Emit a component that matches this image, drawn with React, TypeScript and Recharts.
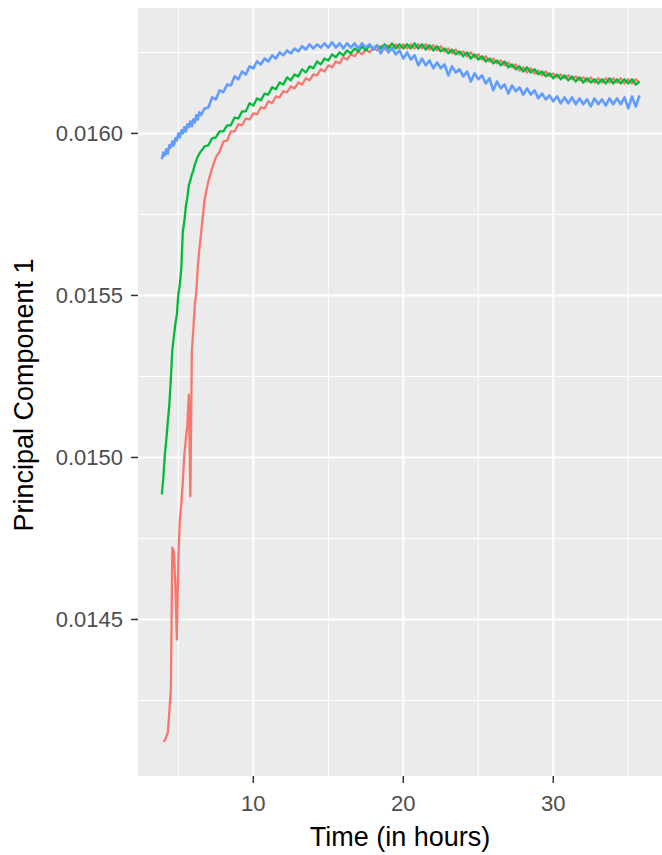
import { LineChart, Line, XAxis, YAxis, CartesianGrid } from "recharts";

// sampling times (hours); denser where the curves climb steeply
const hours = [
  3.9, 4.0, 4.1, 4.2, 4.3, 4.4, 4.5, 4.6, 4.7, 4.8, 4.9,
  5.0, 5.1, 5.2, 5.3, 5.4, 5.5, 5.6, 5.7, 5.8, 5.9,
  6.0, 6.1, 6.2, 6.3, 6.4, 6.5, 6.75,
  7, 7.25, 7.5, 7.75,
  8, 8.25, 8.5, 8.75,
  9, 9.25, 9.5, 9.75,
  10, 10.25, 10.5, 10.75,
  11, 11.25, 11.5, 11.75,
  12, 12.25, 12.5, 12.75,
  13, 13.25, 13.5, 13.75,
  14, 14.25, 14.5, 14.75,
  15, 15.25, 15.5, 15.75,
  16, 16.25, 16.5, 16.75,
  17, 17.25, 17.5, 17.75,
  18, 18.25, 18.5, 18.75,
  19, 19.25, 19.5, 19.75,
  20, 20.25, 20.5, 20.75,
  21, 21.25, 21.5, 21.75,
  22, 22.25, 22.5, 22.75,
  23, 23.25, 23.5, 23.75,
  24, 24.25, 24.5, 24.75,
  25, 25.25, 25.5, 25.75,
  26, 26.25, 26.5, 26.75,
  27, 27.25, 27.5, 27.75,
  28, 28.25, 28.5, 28.75,
  29, 29.25, 29.5, 29.75,
  30, 30.25, 30.5, 30.75,
  31, 31.25, 31.5, 31.75,
  32, 32.25, 32.5, 32.75,
  33, 33.25, 33.5, 33.75,
  34, 34.25, 34.5, 34.75,
  35, 35.25, 35.5, 35.75,
];

const pc1Red = [
  null, 0.014123, 0.014127, 0.014139, 0.014151, 0.014216, 0.014284, 0.014722, 0.01471, 0.014608, 0.014438,
  0.014685, 0.014809, 0.014855, 0.014926, 0.015009, 0.015056, 0.015102, 0.015194, 0.01488, 0.015327,
  0.015395, 0.015472, 0.015512, 0.01559, 0.015642, 0.015685, 0.015796,
  0.015852, 0.015892, 0.015926, 0.015944,
  0.015975, 0.015978, 0.016006, 0.016006,
  0.016028, 0.016025, 0.016046, 0.016043,
  0.016062, 0.016059, 0.01608, 0.016077,
  0.016099, 0.016093, 0.016114, 0.016111,
  0.01613, 0.016127, 0.016145, 0.016139,
  0.016157, 0.016151, 0.01617, 0.016164,
  0.016182, 0.016179, 0.016198, 0.016191,
  0.01621, 0.016204, 0.016222, 0.016216,
  0.016235, 0.016228, 0.016244, 0.016238,
  0.016253, 0.016244, 0.016259, 0.01625,
  0.016265, 0.016256, 0.016269, 0.016259,
  0.016272, 0.016262, 0.016275, 0.016262,
  0.016275, 0.016262, 0.016275, 0.016262,
  0.016275, 0.016262, 0.016275, 0.016259,
  0.016272, 0.016256, 0.016269, 0.016253,
  0.016262, 0.016247, 0.016259, 0.016244,
  0.016253, 0.016238, 0.01625, 0.016235,
  0.016244, 0.016228, 0.016238, 0.016222,
  0.016231, 0.016216, 0.016225, 0.01621,
  0.016219, 0.016204, 0.016213, 0.016194,
  0.016204, 0.016188, 0.016201, 0.016185,
  0.016194, 0.016179, 0.016191, 0.016176,
  0.016185, 0.016173, 0.016182, 0.01617,
  0.016179, 0.016167, 0.016176, 0.016164,
  0.016173, 0.01616, 0.016173, 0.016157,
  0.01617, 0.016157, 0.01617, 0.016157,
  0.01617, 0.016157, 0.01617, 0.016154,
  0.016167, 0.016154, 0.016167, 0.016157,
];

const pc1Green = [
  0.014886, 0.014938, 0.015009, 0.015056, 0.015111, 0.015164, 0.015241, 0.015333, 0.015373, 0.015411, 0.015441,
  0.015503, 0.015534, 0.015586, 0.015698, 0.015728, 0.015775, 0.015802, 0.01584, 0.015855, 0.015873,
  0.015886, 0.015904, 0.015917, 0.015929, 0.015938, 0.015944, 0.01596,
  0.015963, 0.015985, 0.015988, 0.016006,
  0.016006, 0.016025, 0.016025, 0.016049,
  0.016046, 0.016068, 0.016068, 0.016093,
  0.016086, 0.016108, 0.016102, 0.016123,
  0.01612, 0.016142, 0.016136, 0.016157,
  0.016151, 0.016173, 0.016164, 0.016182,
  0.016176, 0.016198, 0.016188, 0.016207,
  0.016201, 0.016222, 0.016213, 0.016231,
  0.016225, 0.016244, 0.016235, 0.01625,
  0.016241, 0.016256, 0.016247, 0.016262,
  0.016253, 0.016269, 0.016256, 0.016272,
  0.016259, 0.016272, 0.016262, 0.016275,
  0.016262, 0.016278, 0.016262, 0.016275,
  0.016262, 0.016275, 0.016262, 0.016278,
  0.016262, 0.016275, 0.016259, 0.016272,
  0.016256, 0.016269, 0.016253, 0.016262,
  0.016247, 0.016259, 0.016244, 0.016253,
  0.016238, 0.01625, 0.016231, 0.016244,
  0.016228, 0.016238, 0.016222, 0.016231,
  0.016216, 0.016225, 0.01621, 0.016222,
  0.016204, 0.016213, 0.016198, 0.016207,
  0.016191, 0.016204, 0.016188, 0.016198,
  0.016182, 0.016191, 0.016176, 0.016185,
  0.01617, 0.016182, 0.016167, 0.016179,
  0.016164, 0.016176, 0.01616, 0.016173,
  0.016157, 0.01617, 0.016157, 0.016167,
  0.016154, 0.016167, 0.016154, 0.01617,
  0.016154, 0.016167, 0.016154, 0.016167,
  0.016154, 0.016167, 0.016151, 0.01616,
];

const pc1Blue = [
  0.01592, 0.015941, 0.015932, 0.015951, 0.015938, 0.015963, 0.015957, 0.015975, 0.015963, 0.015985, 0.015978,
  0.016, 0.015988, 0.016009, 0.016, 0.016019, 0.016006, 0.016028, 0.016019, 0.016037, 0.016022,
  0.016043, 0.016034, 0.016056, 0.016043, 0.016065, 0.016056, 0.016077,
  0.01608, 0.016111, 0.016105, 0.016133,
  0.016127, 0.016151, 0.016148, 0.016176,
  0.016167, 0.016191, 0.016182, 0.016207,
  0.016201, 0.016222, 0.016213, 0.016231,
  0.016222, 0.016241, 0.016231, 0.01625,
  0.016241, 0.016256, 0.016247, 0.016262,
  0.016253, 0.016269, 0.016259, 0.016275,
  0.016262, 0.016275, 0.016265, 0.016278,
  0.016265, 0.016281, 0.016265, 0.016278,
  0.016262, 0.016278, 0.016265, 0.016278,
  0.016262, 0.016278, 0.016265, 0.016275,
  0.016259, 0.016272, 0.016247, 0.016269,
  0.01625, 0.016262, 0.016244, 0.016256,
  0.016231, 0.01625, 0.016228, 0.016241,
  0.01621, 0.016231, 0.01621, 0.016225,
  0.016201, 0.016219, 0.016201, 0.016213,
  0.016179, 0.016207, 0.016188, 0.016198,
  0.016176, 0.016191, 0.01616, 0.016185,
  0.016167, 0.016179, 0.016154, 0.01617,
  0.016133, 0.01616, 0.016139, 0.016151,
  0.016123, 0.016148, 0.01613, 0.016142,
  0.01612, 0.016139, 0.01612, 0.016133,
  0.016108, 0.016123, 0.016105, 0.016117,
  0.016099, 0.016114, 0.016093, 0.016111,
  0.016093, 0.016111, 0.01609, 0.016108,
  0.01609, 0.016105, 0.016083, 0.016108,
  0.01609, 0.016105, 0.016086, 0.016108,
  0.01609, 0.016108, 0.01609, 0.016111,
  0.016077, 0.016114, 0.016083, 0.016117,
];

const xTicks = [10, 20, 30];
const xMinor = [5, 15, 25, 35];
const yTicks = [0.0145, 0.015, 0.0155, 0.016];
const yMinor = [0.01425, 0.01475, 0.01525, 0.01575, 0.01625];

const data = hours.map((h, i) => ({
  hours: h,
  red: pc1Red[i],
  green: pc1Green[i],
  blue: pc1Blue[i],
}));

const FONT = "'Liberation Sans', Arial, sans-serif";
const W = 662;
const H = 855;
const PLOT_LEFT = 138;
const PLOT_TOP = 8;
const X_AXIS_H = 79;

const tickStyle = { fontSize: 22, fill: "#4D4D4D", fontFamily: FONT };

const XTitle = () => (
  <text
    x={(PLOT_LEFT + W) / 2}
    y={846}
    textAnchor="middle"
    fontSize={27}
    fontFamily={FONT}
    fill="#000"
  >
    Time (in hours)
  </text>
);

const YTitle = () => (
  <text
    x={33}
    y={395}
    transform="rotate(-90, 33, 395)"
    textAnchor="middle"
    fontSize={27}
    fontFamily={FONT}
    fill="#000"
  >
    Principal Component 1
  </text>
);

export default function App() {
  return (
    <div style={{ position: "absolute", left: 0, top: 0, width: W, height: H, background: "#fff" }}>
      <LineChart
        width={W}
        height={H}
        data={data}
        margin={{ top: PLOT_TOP, right: 0, bottom: 0, left: 0 }}
      >
        <CartesianGrid
          fill="#EBEBEB"
          fillOpacity={1}
          stroke="#FFFFFF"
          strokeWidth={1}
          verticalValues={xMinor}
          horizontalValues={yMinor}
        />
        <CartesianGrid
          stroke="#FFFFFF"
          strokeWidth={2}
          verticalValues={xTicks}
          horizontalValues={yTicks}
        />
        <XAxis
          type="number"
          dataKey="hours"
          domain={[2.31, 37.25]}
          ticks={xTicks}
          allowDataOverflow
          height={X_AXIS_H}
          axisLine={false}
          tickLine={{ stroke: "#333333", strokeWidth: 1.5 }}
          tickSize={7}
          tickMargin={12}
          tick={tickStyle}
          label={{ content: () => <XTitle /> }}
        />
        <YAxis
          type="number"
          domain={[0.014017, 0.016387]}
          ticks={yTicks}
          allowDataOverflow
          width={PLOT_LEFT}
          axisLine={false}
          tickLine={{ stroke: "#333333", strokeWidth: 1.5 }}
          tickSize={7}
          tickMargin={8}
          tick={tickStyle}
          tickFormatter={(v: number) => v.toFixed(4)}
          label={{ content: () => <YTitle /> }}
        />
        <Line
          dataKey="red"
          stroke="#F8766D"
          strokeWidth={2.3}
          strokeLinejoin="round"
          dot={false}
          isAnimationActive={false}
        />
        <Line
          dataKey="green"
          stroke="#00BA38"
          strokeWidth={2.3}
          strokeLinejoin="round"
          dot={false}
          isAnimationActive={false}
        />
        <Line
          dataKey="blue"
          stroke="#619CFF"
          strokeWidth={2.6}
          strokeLinejoin="round"
          dot={false}
          isAnimationActive={false}
        />
      </LineChart>
    </div>
  );
}
